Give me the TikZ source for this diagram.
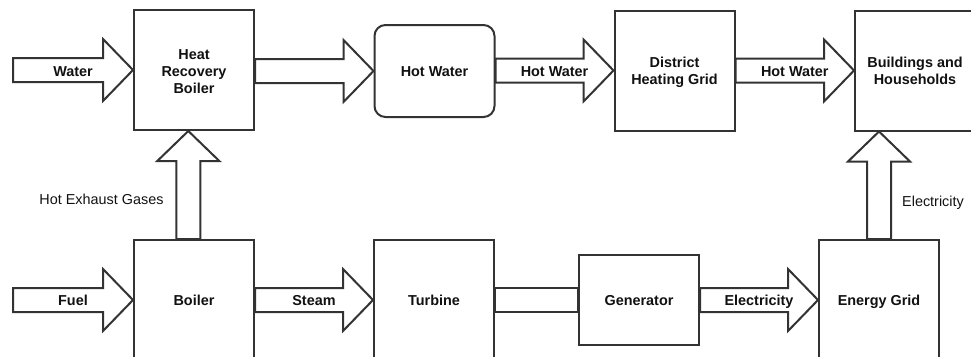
\documentclass[tikz,border=0pt]{standalone}
\usepackage{fontspec}
\setmainfont{Liberation Sans}
\usetikzlibrary{calc}
\definecolor{edge}{HTML}{333333}
\definecolor{ink}{HTML}{111111}

% horizontal block arrow: shaft from #1, tip on #2
\newcommand\hflow[2]{%
  \draw[flow] let \p1=(#1), \p2=(#2) in
    (\x1,\y2+12pt) -- (\x2-30pt,\y2+12pt) -- (\x2-30pt,\y2+31pt) -- (\x2,\y2)
    -- (\x2-30pt,\y2-31pt) -- (\x2-30pt,\y2-12pt) -- (\x1,\y2-12pt) -- cycle;}
% upward block arrow: shaft from #1, tip on #2
\newcommand\vflow[2]{%
  \draw[flow] let \p1=(#1), \p2=(#2) in
    (\x2-12pt,\y1) -- (\x2-12pt,\y2-30pt) -- (\x2-31pt,\y2-30pt) -- (\x2,\y2)
    -- (\x2+31pt,\y2-30pt) -- (\x2+12pt,\y2-30pt) -- (\x2+12pt,\y1) -- cycle;}

\begin{document}
\begin{tikzpicture}[x=1pt,y=-1pt,
  lbl/.style={text=ink,font=\fontsize{14.4}{17}\selectfont\bfseries,align=center,inner sep=0pt,
    text height=12pt,text depth=1pt},
  side/.style={text=ink,font=\fontsize{14.4}{17}\selectfont,inner sep=0pt,
    text height=12pt,text depth=1pt},
  box/.style={lbl,draw=edge,line width=2pt,fill=white,minimum width=120pt,minimum height=120pt},
  twolines/.style={text height=27.4pt,text depth=0pt},
  threelines/.style={text height=46.4pt,text depth=0pt},
  flow/.style={draw=edge,line width=2pt,fill=white,line join=miter},
  shaft/.style={draw=edge,line width=1.3pt,fill=white}]
\useasboundingbox (0,0) rectangle (971,356);
\clip (0,0) rectangle (971,356);

% process blocks
\node[box,threelines] (hrb) at (194,70) {Heat\\Recovery\\Boiler};
\node[box,rounded corners=11pt,minimum height=92pt] (hw) at (434.5,71) {Hot Water};
\node[box,twolines] (dhg) at (674.5,70.5) {District\\Heating Grid};
\node[box,twolines] (bh) at (915,70.5) {Buildings and\\Households};
\node[box] (boiler) at (194,300) {Boiler};
\node[box] (turb) at (434,300) {Turbine};
\node[box,minimum height=90pt] (gen) at (639,300) {Generator};
\node[box] (eg) at (879,300) {Energy Grid};

% open inlet ends
\coordinate (win) at (13,71);
\coordinate (fin) at (13,300);

% top row
\hflow{win}{hrb.west}
\node[lbl] (lwater) at ($(win)!0.5!(hrb.west)$) {Water};
\hflow{hrb.east}{hw.west}
\hflow{hw.east}{dhg.west}
\node[lbl] (lhw1) at ($(hw.east)!0.5!(dhg.west)$) {Hot Water};
\hflow{dhg.east}{bh.west}
\node[lbl] (lhw2) at ($(dhg.east)!0.5!(bh.west)$) {Hot Water};

% bottom row
\hflow{fin}{boiler.west}
\node[lbl] (lfuel) at ($(fin)!0.5!(boiler.west)$) {Fuel};
\hflow{boiler.east}{turb.west}
\node[lbl] (lsteam) at ($(boiler.east)!0.5!(turb.west)$) {Steam};
\draw[shaft] ($(turb.east)+(0,-12)$) rectangle ($(gen.west)+(0,12)$);
\hflow{gen.east}{eg.west}
\node[lbl] (lel1) at ($(gen.east)!0.5!(eg.west)$) {Electricity};

% vertical links
\vflow{$(boiler.north)+(-5.7,0)$}{$(hrb.south)+(-5.7,0)$}
\node[side] (lgas) at (101.5,199) {Hot Exhaust Gases};
\vflow{eg.north}{eg.north |- bh.south}
\node[side] (lel2) at (933,201) {Electricity};
\end{tikzpicture}
\end{document}
